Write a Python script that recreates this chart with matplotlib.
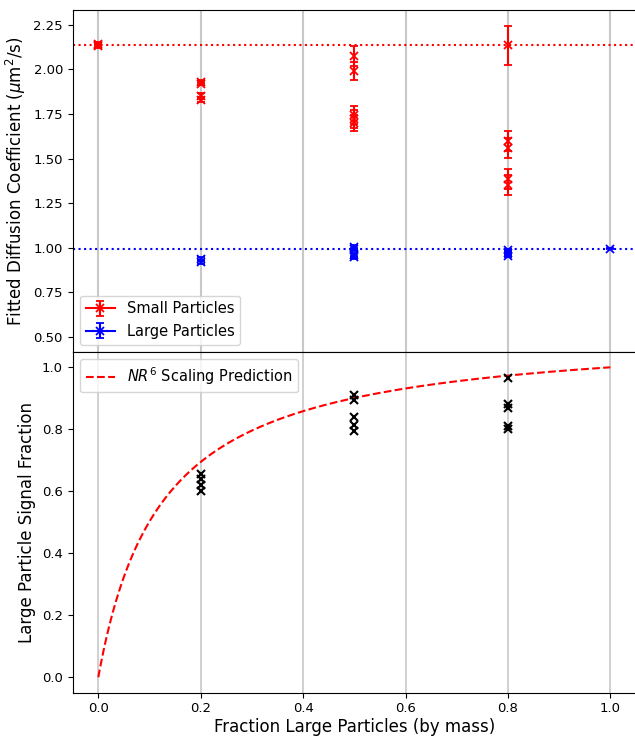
import matplotlib
matplotlib.use("Agg")
import matplotlib.pyplot as plt
import numpy as np

# Small particle fitted diffusion coefficients (um^2/s)
small_x = [0.0, 0.0, 0.0, 0.2, 0.2, 0.2, 0.2, 0.5, 0.5, 0.5, 0.5, 0.5, 0.8, 0.8, 0.8, 0.8, 0.8]
small_D = [2.145, 2.135, 2.13, 1.93, 1.92, 1.85, 1.83, 2.075, 1.99, 1.745, 1.72, 1.70, 2.135, 1.60, 1.56, 1.385, 1.35]
small_err = [0.01, 0.01, 0.01, 0.01, 0.01, 0.015, 0.015, 0.057, 0.05, 0.05, 0.05, 0.045, 0.11, 0.055, 0.055, 0.055, 0.055]

# Large particle fitted diffusion coefficients
large_x = [0.2, 0.2, 0.5, 0.5, 0.5, 0.5, 0.8, 0.8, 0.8, 1.0]
large_D = [0.935, 0.92, 1.005, 0.99, 0.96, 0.945, 0.985, 0.97, 0.955, 0.995]
large_err = [0.01, 0.01, 0.01, 0.01, 0.01, 0.01, 0.01, 0.01, 0.01, 0.005]

D_small_ref = 2.137
D_large_ref = 0.995

# Large particle signal fraction
sig_x = [0.2, 0.2, 0.2, 0.2, 0.5, 0.5, 0.5, 0.5, 0.5, 0.8, 0.8, 0.8, 0.8, 0.8]
sig_y = [0.655, 0.64, 0.62, 0.60, 0.91, 0.895, 0.84, 0.815, 0.795, 0.965, 0.88, 0.87, 0.81, 0.80]

R_cubed = 9.1  # (R_large/R_small)^3 used in the N R^6 prediction

plt.rcParams['xtick.labelsize'] = 9.5
plt.rcParams['ytick.labelsize'] = 9.5

fig = plt.figure(figsize=(6.35, 7.36), dpi=100)
ax1 = fig.add_axes([0.1145, 0.522, 0.887, 0.4646])
ax2 = fig.add_axes([0.1145, 0.0588, 0.887, 0.4632], sharex=ax1)

for i, (x, d, e) in enumerate(zip(small_x, small_D, small_err)):
    ax1.errorbar([x], [d], yerr=[e], fmt='-x', color='red', capsize=3, mew=1.3,
                 label='Small Particles' if i == 0 else None)
for i, (x, d, e) in enumerate(zip(large_x, large_D, large_err)):
    ax1.errorbar([x], [d], yerr=[e], fmt='-x', color='blue', capsize=3, mew=1.3,
                 label='Large Particles' if i == 0 else None)
ax1.axhline(D_small_ref, color='red', linestyle=':', linewidth=1.5)
ax1.axhline(D_large_ref, color='blue', linestyle=':', linewidth=1.5)
ax1.set_ylim(0.416, 2.334)
ax1.set_yticks([0.5, 0.75, 1.0, 1.25, 1.5, 1.75, 2.0, 2.25])
ax1.set_ylabel(r'Fitted Diffusion Coefficient ($\mu$m$^2$/s)', fontsize=12)
ax1.grid(axis='x', color='#c8c8c8', linewidth=1.5)
ax1.legend(loc='lower left', fontsize=10.5)
plt.setp(ax1.get_xticklabels(), visible=False)

f = np.linspace(0, 1, 200)
pred = f * R_cubed / (f * R_cubed + (1 - f))
ax2.plot(f, pred, 'r--', linewidth=1.5, label=r'$NR^6$ Scaling Prediction')
ax2.plot(sig_x, sig_y, 'x', color='black', linestyle='none', mew=1.5, ms=6)
ax2.set_ylabel('Large Particle Signal Fraction', fontsize=12)
ax2.set_xlabel('Fraction Large Particles (by mass)', fontsize=12, labelpad=2)
ax2.grid(axis='x', color='#c8c8c8', linewidth=1.2)
ax2.legend(loc='upper left', fontsize=10.5)
ax2.set_xlim(-0.05, 1.05)
ax2.set_xticks([0.0, 0.2, 0.4, 0.6, 0.8, 1.0])

fig.savefig('out.png', dpi=100)
